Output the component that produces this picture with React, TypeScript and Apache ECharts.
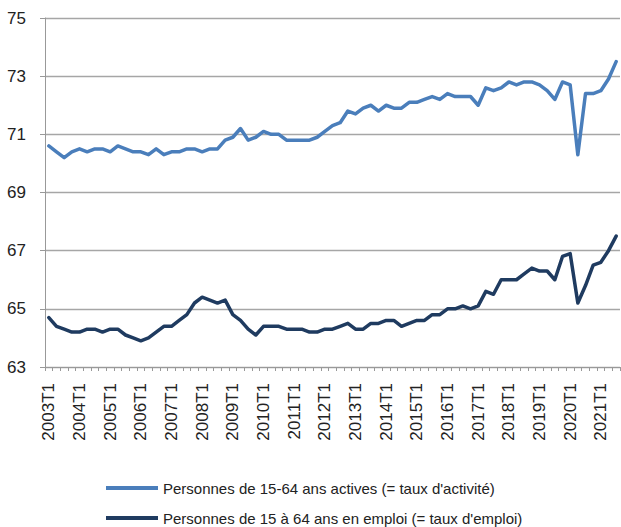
import React, { useEffect, useRef } from "react";
import * as echarts from "echarts";

const years = [2003, 2004, 2005, 2006, 2007, 2008, 2009, 2010, 2011, 2012, 2013, 2014, 2015, 2016, 2017, 2018, 2019, 2020, 2021];
const quarters = ["T1", "T2", "T3", "T4"];
// 2003T1 .. 2021T3 (75 quarters)
const categories: string[] = years.flatMap((y) => quarters.map((q) => `${y}${q}`)).slice(0, 75);

const seriesNames = [
  "Personnes de 15-64 ans actives (= taux d'activité)",
  "Personnes de 15 à 64 ans en emploi (= taux d'emploi)",
];

const tauxActivite = [
  70.6, 70.4, 70.2, 70.4, 70.5, 70.4, 70.5, 70.5, 70.4, 70.6,
  70.5, 70.4, 70.4, 70.3, 70.5, 70.3, 70.4, 70.4, 70.5, 70.5,
  70.4, 70.5, 70.5, 70.8, 70.9, 71.2, 70.8, 70.9, 71.1, 71.0,
  71.0, 70.8, 70.8, 70.8, 70.8, 70.9, 71.1, 71.3, 71.4, 71.8,
  71.7, 71.9, 72.0, 71.8, 72.0, 71.9, 71.9, 72.1, 72.1, 72.2,
  72.3, 72.2, 72.4, 72.3, 72.3, 72.3, 72.0, 72.6, 72.5, 72.6,
  72.8, 72.7, 72.8, 72.8, 72.7, 72.5, 72.2, 72.8, 72.7, 70.3,
  72.4, 72.4, 72.5, 72.9, 73.5,
];

const tauxEmploi = [
  64.7, 64.4, 64.3, 64.2, 64.2, 64.3, 64.3, 64.2, 64.3, 64.3,
  64.1, 64.0, 63.9, 64.0, 64.2, 64.4, 64.4, 64.6, 64.8, 65.2,
  65.4, 65.3, 65.2, 65.3, 64.8, 64.6, 64.3, 64.1, 64.4, 64.4,
  64.4, 64.3, 64.3, 64.3, 64.2, 64.2, 64.3, 64.3, 64.4, 64.5,
  64.3, 64.3, 64.5, 64.5, 64.6, 64.6, 64.4, 64.5, 64.6, 64.6,
  64.8, 64.8, 65.0, 65.0, 65.1, 65.0, 65.1, 65.6, 65.5, 66.0,
  66.0, 66.0, 66.2, 66.4, 66.3, 66.3, 66.0, 66.8, 66.9, 65.2,
  65.8, 66.5, 66.6, 67.0, 67.5,
];

const seriesColors = ["#4A7EBB", "#1F3B60"];

const axisFont = "'Liberation Sans', Arial, sans-serif";

export default function App() {
  const ref = useRef<HTMLDivElement>(null);

  useEffect(() => {
    if (!ref.current) return;
    const chart = echarts.init(ref.current, undefined, { renderer: "svg" });
    const legendBase = {
      left: 106,
      icon: "rect",
      itemWidth: 52,
      itemHeight: 4,
      padding: 0,
      textStyle: { fontFamily: axisFont, fontSize: 15, color: "#222", lineHeight: 18 },
    };
    chart.setOption({
      animation: false,
      backgroundColor: "#fff",
      grid: { left: 45, right: 1, top: 18, bottom: 160, containLabel: false },
      legend: [
        { ...legendBase, top: 479, data: [seriesNames[0]] },
        { ...legendBase, top: 509, data: [seriesNames[1]] },
      ],
      xAxis: {
        type: "category",
        data: categories,
        boundaryGap: true,
        axisLine: { show: true, lineStyle: { color: "#999", width: 1 } },
        axisTick: { show: true, interval: 0, length: 4, lineStyle: { color: "#999" } },
        axisLabel: {
          interval: 3,
          rotate: 90,
          margin: 16,
          fontSize: 17,
          fontFamily: axisFont,
          color: "#222",
        },
        splitLine: { show: false },
      },
      yAxis: {
        type: "value",
        min: 63,
        max: 75,
        interval: 2,
        axisLine: { show: true, lineStyle: { color: "#999" } },
        axisTick: { show: true, length: 5, lineStyle: { color: "#999" } },
        splitLine: { show: true, lineStyle: { color: "#A6A6A6", width: 1.3 } },
        axisLabel: { fontSize: 17, margin: 19, fontFamily: axisFont, color: "#222" },
      },
      series: [
        {
          name: seriesNames[0],
          type: "line",
          data: tauxActivite,
          symbol: "none",
          color: seriesColors[0],
          lineStyle: { width: 3.5, color: seriesColors[0], cap: "round", join: "round" },
        },
        {
          name: seriesNames[1],
          type: "line",
          data: tauxEmploi,
          symbol: "none",
          color: seriesColors[1],
          lineStyle: { width: 3.5, color: seriesColors[1], cap: "round", join: "round" },
        },
      ],
    });
    return () => chart.dispose();
  }, []);

  return <div ref={ref} style={{ position: "fixed", left: 0, top: 0, width: 621, height: 527 }} />;
}
